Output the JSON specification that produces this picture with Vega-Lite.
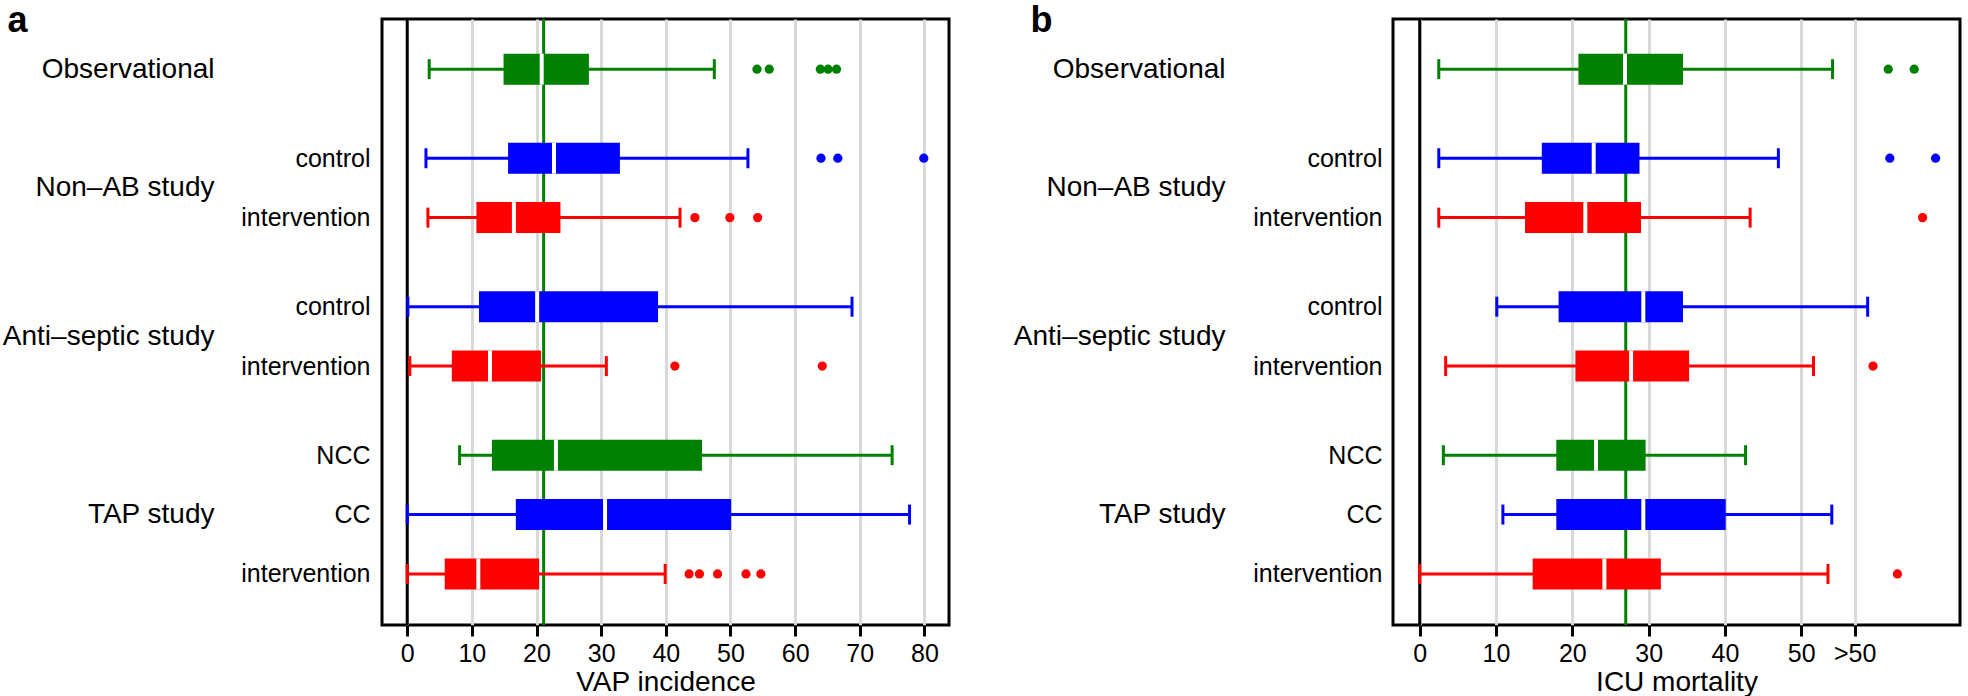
{
  "$schema": "https://vega.github.io/schema/vega-lite/v6.json",
  "padding": 0,
  "spacing": 60,
  "config": {
    "font": "Liberation Sans",
    "view": {"stroke": "black", "strokeWidth": 3},
    "axis": {"labelColor": "black", "titleColor": "black", "labelFont": "Liberation Sans", "titleFont": "Liberation Sans", "titleFontWeight": "normal", "labelLimit": 0}
  },
  "datasets": {
    "refA": [{"ref": 21.1}],
    "refB": [{"ref": 27.0}],
    "boxA": [
      {"pos": 1, "arm": "reference", "low": 3.4, "q1": 14.9, "median": 20.8, "q3": 28.1, "high": 47.5},
      {"pos": 4, "arm": "control", "low": 2.9, "q1": 15.6, "median": 22.7, "q3": 32.9, "high": 52.7},
      {"pos": 6, "arm": "intervention", "low": 3.2, "q1": 10.7, "median": 16.5, "q3": 23.7, "high": 42.2},
      {"pos": 9, "arm": "control", "low": 0.1, "q1": 11.1, "median": 20.1, "q3": 38.8, "high": 68.8},
      {"pos": 11, "arm": "intervention", "low": 0.4, "q1": 6.9, "median": 12.8, "q3": 20.7, "high": 30.8},
      {"pos": 14, "arm": "reference", "low": 8.1, "q1": 13.1, "median": 23.0, "q3": 45.6, "high": 75.0},
      {"pos": 16, "arm": "control", "low": 0, "q1": 16.8, "median": 30.6, "q3": 50.1, "high": 77.7},
      {"pos": 18, "arm": "intervention", "low": 0, "q1": 5.8, "median": 11.0, "q3": 20.4, "high": 39.9}
    ],
    "outA": [
      {"pos": 1, "arm": "reference", "value": 54.1},
      {"pos": 1, "arm": "reference", "value": 56.0},
      {"pos": 1, "arm": "reference", "value": 63.9},
      {"pos": 1, "arm": "reference", "value": 65.1},
      {"pos": 1, "arm": "reference", "value": 66.4},
      {"pos": 4, "arm": "control", "value": 64.0},
      {"pos": 4, "arm": "control", "value": 66.6},
      {"pos": 4, "arm": "control", "value": 79.9},
      {"pos": 6, "arm": "intervention", "value": 44.5},
      {"pos": 6, "arm": "intervention", "value": 49.9},
      {"pos": 6, "arm": "intervention", "value": 54.2},
      {"pos": 11, "arm": "intervention", "value": 41.4},
      {"pos": 11, "arm": "intervention", "value": 64.2},
      {"pos": 18, "arm": "intervention", "value": 43.6},
      {"pos": 18, "arm": "intervention", "value": 45.2},
      {"pos": 18, "arm": "intervention", "value": 48.0},
      {"pos": 18, "arm": "intervention", "value": 52.4},
      {"pos": 18, "arm": "intervention", "value": 54.7}
    ],
    "boxB": [
      {"pos": 1, "arm": "reference", "low": 2.5, "q1": 20.8, "median": 26.9, "q3": 34.5, "high": 54.1},
      {"pos": 4, "arm": "control", "low": 2.5, "q1": 16.0, "median": 22.8, "q3": 28.8, "high": 47.0},
      {"pos": 6, "arm": "intervention", "low": 2.5, "q1": 13.8, "median": 21.7, "q3": 29.0, "high": 43.3},
      {"pos": 9, "arm": "control", "low": 10.1, "q1": 18.2, "median": 29.3, "q3": 34.5, "high": 58.7},
      {"pos": 11, "arm": "intervention", "low": 3.4, "q1": 20.4, "median": 27.7, "q3": 35.3, "high": 51.6},
      {"pos": 14, "arm": "reference", "low": 3.1, "q1": 17.9, "median": 23.1, "q3": 29.6, "high": 42.7},
      {"pos": 16, "arm": "control", "low": 10.9, "q1": 17.9, "median": 29.3, "q3": 40.1, "high": 54.0},
      {"pos": 18, "arm": "intervention", "low": 0, "q1": 14.8, "median": 24.2, "q3": 31.6, "high": 53.5}
    ],
    "outB": [
      {"pos": 1, "arm": "reference", "value": 61.4},
      {"pos": 1, "arm": "reference", "value": 64.8},
      {"pos": 4, "arm": "control", "value": 61.6},
      {"pos": 4, "arm": "control", "value": 67.6},
      {"pos": 6, "arm": "intervention", "value": 65.9},
      {"pos": 11, "arm": "intervention", "value": 59.4},
      {"pos": 18, "arm": "intervention", "value": 62.6}
    ]
  },
  "hconcat": [
    {
      "width": 567,
      "height": 606,
      "resolve": {"axis": {"y": "independent"}},
      "layer": [
        {
          "data": {"name": "refA"},
          "mark": {"type": "rule", "color": "black", "strokeWidth": 3},
          "encoding": {"x": {"datum": 0, "type": "quantitative", "scale": {"domain": [-3.9, 83.8], "nice": false, "zero": false},
            "axis": {"title": "VAP incidence", "values": [0, 10, 20, 30, 40, 50, 60, 70, 80], "grid": true, "gridColor": "#d9d9d9", "gridWidth": 3, "domain": false, "ticks": true, "tickColor": "black", "tickWidth": 3, "tickSize": 11, "labelFontSize": 25, "labelPadding": 5, "labelFlush": false, "labelOverlap": false, "titleFontSize": 28, "titlePadding": 2}}}
        },
        {
          "data": {"name": "refA"},
          "mark": {"type": "rule", "color": "#008000", "strokeWidth": 3},
          "encoding": {"x": {"field": "ref", "type": "quantitative", "scale": {"domain": [-3.9, 83.8], "nice": false, "zero": false},
            "axis": {"title": "VAP incidence", "values": [0, 10, 20, 30, 40, 50, 60, 70, 80], "grid": true, "gridColor": "#d9d9d9", "gridWidth": 3, "domain": false, "ticks": true, "tickColor": "black", "tickWidth": 3, "tickSize": 11, "labelFontSize": 25, "labelPadding": 5, "labelFlush": false, "labelOverlap": false, "titleFontSize": 28, "titlePadding": 2}}}
        },
        {
          "data": {"name": "boxA"},
          "mark": {"type": "rule", "strokeWidth": 3},
          "encoding": {
            "x": {"field": "low", "type": "quantitative", "scale": {"domain": [-3.9, 83.8], "nice": false, "zero": false},
              "axis": {"title": "VAP incidence", "values": [0, 10, 20, 30, 40, 50, 60, 70, 80], "grid": true, "gridColor": "#d9d9d9", "gridWidth": 3, "domain": false, "ticks": true, "tickColor": "black", "tickWidth": 3, "tickSize": 11, "labelFontSize": 25, "labelPadding": 5, "labelFlush": false, "labelOverlap": false, "titleFontSize": 28, "titlePadding": 2}},
            "x2": {"field": "high"},
            "y": {"field": "pos", "type": "quantitative", "scale": {"domain": [-0.52, 19.55], "reverse": true, "nice": false, "zero": false},
              "axis": {"orient": "left", "values": [4, 6, 9, 11, 14, 16, 18], "labelExpr": "datum.value == 4 || datum.value == 9 ? 'control' : datum.value == 14 ? 'NCC' : datum.value == 16 ? 'CC' : 'intervention'", "ticks": false, "domain": false, "grid": false, "labelFontSize": 25, "labelPadding": 12, "labelOverlap": false, "labelFlush": false, "labelLimit": 0, "title": null}},
            "color": {"field": "arm", "type": "nominal", "scale": {"domain": ["reference", "control", "intervention"], "range": ["#008000", "#0000ff", "#ff0000"]}, "legend": null}
          }
        },
        {
          "data": {"name": "boxA"},
          "mark": {"type": "tick", "orient": "vertical", "size": 20, "thickness": 3, "opacity": 1},
          "encoding": {
            "x": {"field": "low", "type": "quantitative", "scale": {"domain": [-3.9, 83.8], "nice": false, "zero": false},
              "axis": {"title": "VAP incidence", "values": [0, 10, 20, 30, 40, 50, 60, 70, 80], "grid": true, "gridColor": "#d9d9d9", "gridWidth": 3, "domain": false, "ticks": true, "tickColor": "black", "tickWidth": 3, "tickSize": 11, "labelFontSize": 25, "labelPadding": 5, "labelFlush": false, "labelOverlap": false, "titleFontSize": 28, "titlePadding": 2}},
            "y": {"field": "pos", "type": "quantitative", "scale": {"domain": [-0.52, 19.55], "reverse": true, "nice": false, "zero": false}, "axis": null},
            "color": {"field": "arm", "type": "nominal", "scale": {"domain": ["reference", "control", "intervention"], "range": ["#008000", "#0000ff", "#ff0000"]}, "legend": null}
          }
        },
        {
          "data": {"name": "boxA"},
          "mark": {"type": "tick", "orient": "vertical", "size": 20, "thickness": 3, "opacity": 1},
          "encoding": {
            "x": {"field": "high", "type": "quantitative", "scale": {"domain": [-3.9, 83.8], "nice": false, "zero": false},
              "axis": {"title": "VAP incidence", "values": [0, 10, 20, 30, 40, 50, 60, 70, 80], "grid": true, "gridColor": "#d9d9d9", "gridWidth": 3, "domain": false, "ticks": true, "tickColor": "black", "tickWidth": 3, "tickSize": 11, "labelFontSize": 25, "labelPadding": 5, "labelFlush": false, "labelOverlap": false, "titleFontSize": 28, "titlePadding": 2}},
            "y": {"field": "pos", "type": "quantitative", "scale": {"domain": [-0.52, 19.55], "reverse": true, "nice": false, "zero": false}, "axis": null},
            "color": {"field": "arm", "type": "nominal", "scale": {"domain": ["reference", "control", "intervention"], "range": ["#008000", "#0000ff", "#ff0000"]}, "legend": null}
          }
        },
        {
          "data": {"name": "boxA"},
          "mark": {"type": "bar", "orient": "horizontal", "size": 31},
          "encoding": {
            "x": {"field": "q1", "type": "quantitative", "scale": {"domain": [-3.9, 83.8], "nice": false, "zero": false},
              "axis": {"title": "VAP incidence", "values": [0, 10, 20, 30, 40, 50, 60, 70, 80], "grid": true, "gridColor": "#d9d9d9", "gridWidth": 3, "domain": false, "ticks": true, "tickColor": "black", "tickWidth": 3, "tickSize": 11, "labelFontSize": 25, "labelPadding": 5, "labelFlush": false, "labelOverlap": false, "titleFontSize": 28, "titlePadding": 2}},
            "x2": {"field": "q3"},
            "y": {"field": "pos", "type": "quantitative", "scale": {"domain": [-0.52, 19.55], "reverse": true, "nice": false, "zero": false}, "axis": null},
            "color": {"field": "arm", "type": "nominal", "scale": {"domain": ["reference", "control", "intervention"], "range": ["#008000", "#0000ff", "#ff0000"]}, "legend": null}
          }
        },
        {
          "data": {"name": "boxA"},
          "mark": {"type": "tick", "orient": "vertical", "size": 31, "thickness": 4, "color": "white", "opacity": 1},
          "encoding": {
            "x": {"field": "median", "type": "quantitative", "scale": {"domain": [-3.9, 83.8], "nice": false, "zero": false},
              "axis": {"title": "VAP incidence", "values": [0, 10, 20, 30, 40, 50, 60, 70, 80], "grid": true, "gridColor": "#d9d9d9", "gridWidth": 3, "domain": false, "ticks": true, "tickColor": "black", "tickWidth": 3, "tickSize": 11, "labelFontSize": 25, "labelPadding": 5, "labelFlush": false, "labelOverlap": false, "titleFontSize": 28, "titlePadding": 2}},
            "y": {"field": "pos", "type": "quantitative", "scale": {"domain": [-0.52, 19.55], "reverse": true, "nice": false, "zero": false}, "axis": null}
          }
        },
        {
          "data": {"name": "outA"},
          "mark": {"type": "circle", "size": 85, "opacity": 1},
          "encoding": {
            "x": {"field": "value", "type": "quantitative", "scale": {"domain": [-3.9, 83.8], "nice": false, "zero": false},
              "axis": {"title": "VAP incidence", "values": [0, 10, 20, 30, 40, 50, 60, 70, 80], "grid": true, "gridColor": "#d9d9d9", "gridWidth": 3, "domain": false, "ticks": true, "tickColor": "black", "tickWidth": 3, "tickSize": 11, "labelFontSize": 25, "labelPadding": 5, "labelFlush": false, "labelOverlap": false, "titleFontSize": 28, "titlePadding": 2}},
            "y": {"field": "pos", "type": "quantitative", "scale": {"domain": [-0.52, 19.55], "reverse": true, "nice": false, "zero": false},
              "axis": {"orient": "left", "values": [1, 5, 10, 16], "labelExpr": "datum.value == 1 ? 'Observational' : datum.value == 5 ? 'Non–AB study' : datum.value == 10 ? 'Anti–septic study' : 'TAP study'", "ticks": false, "domain": false, "grid": false, "labelFontSize": 28, "labelPadding": 168, "labelOverlap": false, "labelFlush": false, "labelLimit": 0,
                "title": "a", "titleAngle": 0, "titleX": -375, "titleY": 12, "titleAlign": "left", "titleBaseline": "alphabetic", "titleFontSize": 36, "titleFontWeight": "bold"}},
            "color": {"field": "arm", "type": "nominal", "scale": {"domain": ["reference", "control", "intervention"], "range": ["#008000", "#0000ff", "#ff0000"]}, "legend": null}
          }
        }
      ]
    },
    {
      "width": 567,
      "height": 606,
      "resolve": {"axis": {"y": "independent"}},
      "layer": [
        {
          "data": {"name": "refB"},
          "mark": {"type": "rule", "color": "black", "strokeWidth": 3},
          "encoding": {"x": {"datum": 0, "type": "quantitative", "scale": {"domain": [-3.5, 70.8], "nice": false, "zero": false},
            "axis": {"title": "ICU mortality", "values": [0, 10, 20, 30, 40, 50, 57], "labelExpr": "datum.value == 57 ? '>50' : datum.label", "grid": true, "gridColor": "#d9d9d9", "gridWidth": 3, "domain": false, "ticks": true, "tickColor": "black", "tickWidth": 3, "tickSize": 11, "labelFontSize": 25, "labelPadding": 5, "labelFlush": false, "labelOverlap": false, "titleFontSize": 28, "titlePadding": 2}}}
        },
        {
          "data": {"name": "refB"},
          "mark": {"type": "rule", "color": "#008000", "strokeWidth": 3},
          "encoding": {"x": {"field": "ref", "type": "quantitative", "scale": {"domain": [-3.5, 70.8], "nice": false, "zero": false},
            "axis": {"title": "ICU mortality", "values": [0, 10, 20, 30, 40, 50, 57], "labelExpr": "datum.value == 57 ? '>50' : datum.label", "grid": true, "gridColor": "#d9d9d9", "gridWidth": 3, "domain": false, "ticks": true, "tickColor": "black", "tickWidth": 3, "tickSize": 11, "labelFontSize": 25, "labelPadding": 5, "labelFlush": false, "labelOverlap": false, "titleFontSize": 28, "titlePadding": 2}}}
        },
        {
          "data": {"name": "boxB"},
          "mark": {"type": "rule", "strokeWidth": 3},
          "encoding": {
            "x": {"field": "low", "type": "quantitative", "scale": {"domain": [-3.5, 70.8], "nice": false, "zero": false},
              "axis": {"title": "ICU mortality", "values": [0, 10, 20, 30, 40, 50, 57], "labelExpr": "datum.value == 57 ? '>50' : datum.label", "grid": true, "gridColor": "#d9d9d9", "gridWidth": 3, "domain": false, "ticks": true, "tickColor": "black", "tickWidth": 3, "tickSize": 11, "labelFontSize": 25, "labelPadding": 5, "labelFlush": false, "labelOverlap": false, "titleFontSize": 28, "titlePadding": 2}},
            "x2": {"field": "high"},
            "y": {"field": "pos", "type": "quantitative", "scale": {"domain": [-0.52, 19.55], "reverse": true, "nice": false, "zero": false},
              "axis": {"orient": "left", "values": [4, 6, 9, 11, 14, 16, 18], "labelExpr": "datum.value == 4 || datum.value == 9 ? 'control' : datum.value == 14 ? 'NCC' : datum.value == 16 ? 'CC' : 'intervention'", "ticks": false, "domain": false, "grid": false, "labelFontSize": 25, "labelPadding": 11, "labelOverlap": false, "labelFlush": false, "labelLimit": 0, "title": null}},
            "color": {"field": "arm", "type": "nominal", "scale": {"domain": ["reference", "control", "intervention"], "range": ["#008000", "#0000ff", "#ff0000"]}, "legend": null}
          }
        },
        {
          "data": {"name": "boxB"},
          "mark": {"type": "tick", "orient": "vertical", "size": 20, "thickness": 3, "opacity": 1},
          "encoding": {
            "x": {"field": "low", "type": "quantitative", "scale": {"domain": [-3.5, 70.8], "nice": false, "zero": false},
              "axis": {"title": "ICU mortality", "values": [0, 10, 20, 30, 40, 50, 57], "labelExpr": "datum.value == 57 ? '>50' : datum.label", "grid": true, "gridColor": "#d9d9d9", "gridWidth": 3, "domain": false, "ticks": true, "tickColor": "black", "tickWidth": 3, "tickSize": 11, "labelFontSize": 25, "labelPadding": 5, "labelFlush": false, "labelOverlap": false, "titleFontSize": 28, "titlePadding": 2}},
            "y": {"field": "pos", "type": "quantitative", "scale": {"domain": [-0.52, 19.55], "reverse": true, "nice": false, "zero": false}, "axis": null},
            "color": {"field": "arm", "type": "nominal", "scale": {"domain": ["reference", "control", "intervention"], "range": ["#008000", "#0000ff", "#ff0000"]}, "legend": null}
          }
        },
        {
          "data": {"name": "boxB"},
          "mark": {"type": "tick", "orient": "vertical", "size": 20, "thickness": 3, "opacity": 1},
          "encoding": {
            "x": {"field": "high", "type": "quantitative", "scale": {"domain": [-3.5, 70.8], "nice": false, "zero": false},
              "axis": {"title": "ICU mortality", "values": [0, 10, 20, 30, 40, 50, 57], "labelExpr": "datum.value == 57 ? '>50' : datum.label", "grid": true, "gridColor": "#d9d9d9", "gridWidth": 3, "domain": false, "ticks": true, "tickColor": "black", "tickWidth": 3, "tickSize": 11, "labelFontSize": 25, "labelPadding": 5, "labelFlush": false, "labelOverlap": false, "titleFontSize": 28, "titlePadding": 2}},
            "y": {"field": "pos", "type": "quantitative", "scale": {"domain": [-0.52, 19.55], "reverse": true, "nice": false, "zero": false}, "axis": null},
            "color": {"field": "arm", "type": "nominal", "scale": {"domain": ["reference", "control", "intervention"], "range": ["#008000", "#0000ff", "#ff0000"]}, "legend": null}
          }
        },
        {
          "data": {"name": "boxB"},
          "mark": {"type": "bar", "orient": "horizontal", "size": 31},
          "encoding": {
            "x": {"field": "q1", "type": "quantitative", "scale": {"domain": [-3.5, 70.8], "nice": false, "zero": false},
              "axis": {"title": "ICU mortality", "values": [0, 10, 20, 30, 40, 50, 57], "labelExpr": "datum.value == 57 ? '>50' : datum.label", "grid": true, "gridColor": "#d9d9d9", "gridWidth": 3, "domain": false, "ticks": true, "tickColor": "black", "tickWidth": 3, "tickSize": 11, "labelFontSize": 25, "labelPadding": 5, "labelFlush": false, "labelOverlap": false, "titleFontSize": 28, "titlePadding": 2}},
            "x2": {"field": "q3"},
            "y": {"field": "pos", "type": "quantitative", "scale": {"domain": [-0.52, 19.55], "reverse": true, "nice": false, "zero": false}, "axis": null},
            "color": {"field": "arm", "type": "nominal", "scale": {"domain": ["reference", "control", "intervention"], "range": ["#008000", "#0000ff", "#ff0000"]}, "legend": null}
          }
        },
        {
          "data": {"name": "boxB"},
          "mark": {"type": "tick", "orient": "vertical", "size": 31, "thickness": 4, "color": "white", "opacity": 1},
          "encoding": {
            "x": {"field": "median", "type": "quantitative", "scale": {"domain": [-3.5, 70.8], "nice": false, "zero": false},
              "axis": {"title": "ICU mortality", "values": [0, 10, 20, 30, 40, 50, 57], "labelExpr": "datum.value == 57 ? '>50' : datum.label", "grid": true, "gridColor": "#d9d9d9", "gridWidth": 3, "domain": false, "ticks": true, "tickColor": "black", "tickWidth": 3, "tickSize": 11, "labelFontSize": 25, "labelPadding": 5, "labelFlush": false, "labelOverlap": false, "titleFontSize": 28, "titlePadding": 2}},
            "y": {"field": "pos", "type": "quantitative", "scale": {"domain": [-0.52, 19.55], "reverse": true, "nice": false, "zero": false}, "axis": null}
          }
        },
        {
          "data": {"name": "outB"},
          "mark": {"type": "circle", "size": 85, "opacity": 1},
          "encoding": {
            "x": {"field": "value", "type": "quantitative", "scale": {"domain": [-3.5, 70.8], "nice": false, "zero": false},
              "axis": {"title": "ICU mortality", "values": [0, 10, 20, 30, 40, 50, 57], "labelExpr": "datum.value == 57 ? '>50' : datum.label", "grid": true, "gridColor": "#d9d9d9", "gridWidth": 3, "domain": false, "ticks": true, "tickColor": "black", "tickWidth": 3, "tickSize": 11, "labelFontSize": 25, "labelPadding": 5, "labelFlush": false, "labelOverlap": false, "titleFontSize": 28, "titlePadding": 2}},
            "y": {"field": "pos", "type": "quantitative", "scale": {"domain": [-0.52, 19.55], "reverse": true, "nice": false, "zero": false},
              "axis": {"orient": "left", "values": [1, 5, 10, 16], "labelExpr": "datum.value == 1 ? 'Observational' : datum.value == 5 ? 'Non–AB study' : datum.value == 10 ? 'Anti–septic study' : 'TAP study'", "ticks": false, "domain": false, "grid": false, "labelFontSize": 28, "labelPadding": 168, "labelOverlap": false, "labelFlush": false, "labelLimit": 0,
                "title": "b", "titleAngle": 0, "titleX": -363, "titleY": 12, "titleAlign": "left", "titleBaseline": "alphabetic", "titleFontSize": 36, "titleFontWeight": "bold"}},
            "color": {"field": "arm", "type": "nominal", "scale": {"domain": ["reference", "control", "intervention"], "range": ["#008000", "#0000ff", "#ff0000"]}, "legend": null}
          }
        }
      ]
    }
  ]
}
